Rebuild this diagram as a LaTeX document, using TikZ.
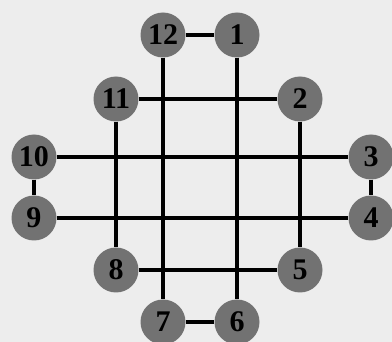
\documentclass[tikz,border=0pt]{standalone}
\usepackage{fontspec}
\setmainfont{Liberation Serif}
\begin{document}
\begin{tikzpicture}[x=1pt,y=-1pt,
  vtx/.style={circle,fill=vgray,minimum size=45pt,inner sep=0pt,font=\fontsize{30}{30}\selectfont\bfseries,text=black},
  edge/.style={line width=4.5pt,black}]
\definecolor{vgray}{HTML}{727272}
\definecolor{bgcol}{HTML}{EDEDED}
\fill[bgcol] (0,0) rectangle (392,342);
\useasboundingbox (0,0) rectangle (392,342);
\node[vtx] (n12) at (163,35) {12};
\node[vtx] (n1) at (237,35) {1};
\node[vtx] (n11) at (116,99) {11};
\node[vtx] (n2) at (300,99) {2};
\node[vtx] (n10) at (34,157) {10};
\node[vtx] (n3) at (371,157) {3};
\node[vtx] (n9) at (34,218) {9};
\node[vtx] (n4) at (371,218) {4};
\node[vtx] (n8) at (116,270) {8};
\node[vtx] (n5) at (300,270) {5};
\node[vtx] (n7) at (163,322) {7};
\node[vtx] (n6) at (237,322) {6};
\draw[edge] (n12) -- (n1);
\draw[edge] (n10) -- (n9);
\draw[edge] (n3) -- (n4);
\draw[edge] (n7) -- (n6);
\draw[edge] (n12) -- (n7);
\draw[edge] (n1) -- (n6);
\draw[edge] (n11) -- (n8);
\draw[edge] (n2) -- (n5);
\draw[edge] (n11) -- (n2);
\draw[edge] (n10) -- (n3);
\draw[edge] (n9) -- (n4);
\draw[edge] (n8) -- (n5);
\end{tikzpicture}
\end{document}
